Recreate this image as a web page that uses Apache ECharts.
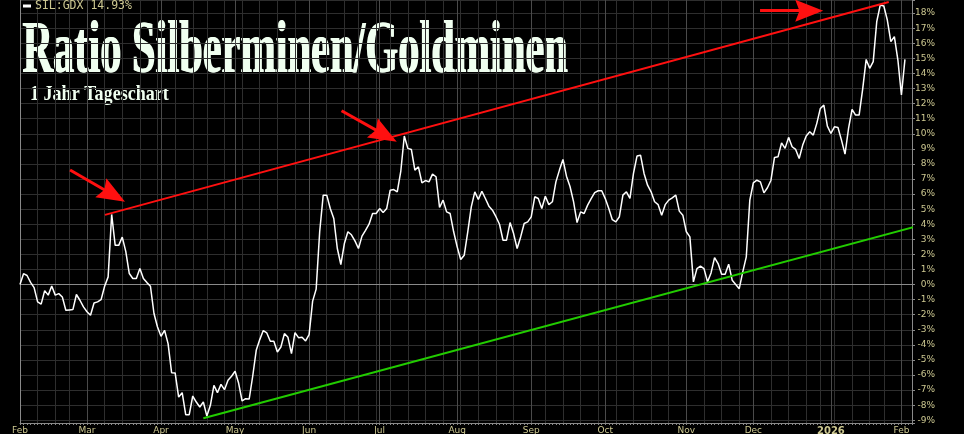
<!DOCTYPE html>
<html>
<head>
<meta charset="utf-8">
<script src="https://cdn.jsdelivr.net/npm/echarts@6/dist/echarts.min.js"></script>
<style>
html,body{margin:0;padding:0;background:#000;}
#chart{width:964px;height:434px;}
</style>
</head>
<body>
<div id="chart"></div>
<script>
// ---------- data ----------
const firstTradingDay = '2025-02-03';
const marketHolidays = ['2025-02-17','2025-04-18','2025-05-26','2025-06-19','2025-07-04',
  '2025-09-01','2025-11-27','2025-12-25','2026-01-01','2026-01-19','2026-02-16'];
const axisSlots = 254; // 252 trading days shown + 2 empty slots on the right

const monthNames = ['Jan','Feb','Mar','Apr','May','Jun','Jul','Aug','Sep','Oct','Nov','Dec'];

// SIL:GDX ratio, % (daily closes)
const ratioValues = [
  0.0, 0.72, 0.6, 0.15, -0.2, -1.15, -1.3, -0.4, -0.7, -0.1,
  -0.7, -0.6, -0.82, -1.7, -1.68, -1.66, -0.66, -1.04, -1.48, -1.8,
  -2.04, -1.22, -1.15, -1.0, -0.11, 0.51, 4.65, 2.6, 2.6, 3.15,
  2.2, 0.73, 0.4, 0.4, 1.06, 0.4, 0.13, -0.11, -1.92, -2.81,
  -3.43, -3.03, -3.92, -5.84, -5.86, -7.46, -7.17, -8.63, -8.63, -7.39,
  -7.79, -8.12, -7.79, -8.72, -8.01, -6.68, -7.17, -6.62, -6.97, -6.35,
  -6.08, -5.75, -6.53, -7.72, -7.57, -7.59, -6.08, -4.36, -3.65, -3.05,
  -3.21, -3.76, -3.76, -4.47, -4.14, -3.25, -3.5, -4.58, -3.19, -3.52,
  -3.5, -3.74, -3.32, -1.1, -0.3, 3.5, 5.93, 5.93, 5.04, 4.38,
  2.39, 1.33, 2.72, 3.5, 3.3, 2.9, 2.39, 3.21, 3.6, 4.0,
  4.71, 4.71, 5.04, 4.78, 5.04, 6.26, 6.3, 6.15, 7.5, 9.85,
  9.03, 8.96, 7.59, 7.81, 6.75, 6.9, 6.81, 7.32, 7.15, 5.11,
  5.6, 4.82, 4.71, 3.5, 2.5, 1.66, 1.95, 3.5, 5.15, 6.15,
  5.64, 6.19, 5.71, 5.2, 4.93, 4.5, 4.0, 2.94, 2.94, 4.11,
  3.38, 2.39, 3.16, 4.05, 4.16, 4.49, 5.82, 5.71, 5.04, 5.86,
  5.3, 5.49, 6.81, 7.59, 8.3, 7.19, 6.5, 5.5, 4.11, 4.82,
  4.71, 5.27, 5.7, 6.1, 6.22, 6.22, 5.7, 5.04, 4.3, 4.16,
  4.5, 5.93, 6.15, 5.71, 7.37, 8.52, 8.58, 7.37, 6.59, 6.15,
  5.49, 5.3, 4.6, 5.3, 5.6, 5.75, 5.93, 4.87, 4.6, 3.5,
  3.16, 0.18, 1.06, 1.22, 1.06, 0.18, 0.77, 1.79, 1.39, 0.69,
  0.69, 1.35, 0.29, 0.0, -0.27, 0.84, 1.84, 5.6, 6.75, 6.92,
  6.81, 6.08, 6.42, 6.92, 8.43, 8.47, 9.4, 9.03, 9.76, 9.14,
  8.96, 8.36, 9.25, 9.85, 10.13, 9.91, 10.69, 11.68, 11.9, 10.51,
  10.02, 10.46, 10.42, 9.58, 8.65, 10.35, 11.62, 11.24, 11.24, 12.94,
  14.93, 14.34, 14.78, 17.43, 18.54, 18.47, 17.54, 16.11, 16.44, 14.89,
  12.57, 14.93
];

// trend channel lines: [trading-day index, %]
const upperTrend = [[24.1, 4.62], [246.4, 18.74]];
const lowerTrend = [[52.0, -8.87], [256.7, 4.02]];
// red arrows: [tail, head-centre] in [trading-day index, %]
const arrowMarks = [
  [[14.2, 7.6], [26.35, 5.96]],
  [[91.2, 11.53], [103.4, 9.93]],
  [[209.9, 18.16], [223.85, 18.16]]
];

const seriesName = 'SIL:GDX 14.93%';
const titleText = 'Ratio Silberminen/Goldminen';
const subtitleText = '1 Jahr Tageschart';
const yMin = -9.18, yMax = 18.87;

// ---------- build categories ----------
function tradingDays(start, n, hol) {
  const out = [];
  const d = new Date(start + 'T00:00:00Z');
  while (out.length < n) {
    const dow = d.getUTCDay();
    const s = d.toISOString().slice(0, 10);
    if (dow !== 0 && dow !== 6 && hol.indexOf(s) < 0) out.push(s);
    d.setUTCDate(d.getUTCDate() + 1);
  }
  return out;
}
const dates = tradingDays(firstTradingDay, axisSlots, marketHolidays);
const dayOfWeek = dates.map(s => new Date(s + 'T00:00:00Z').getUTCDay());
const isMonthStart = dates.map((s, i) => i === 0 || s.slice(5, 7) !== dates[i - 1].slice(5, 7));
const isWeekStart = dates.map((s, i) => i === 0 || dayOfWeek[i] <= dayOfWeek[i - 1]);

const khaki = '#cdc891';
const axisGray = '#8a8a8a';
const titleColor = '#f0fff0';

function titleText2(x, y, sx, txt, font) {
  return {type: 'text', x: x, y: y, scaleX: sx, scaleY: 1, silent: true,
    style: {text: txt, font: font, fill: titleColor, textAlign: 'left', textVerticalAlign: 'middle'}};
}

const chart = echarts.init(document.getElementById('chart'), null, {renderer: 'canvas'});
chart.setOption({
  backgroundColor: '#000000',
  animation: false,
  grid: {left: 20, right: 52, top: 0, bottom: 11, containLabel: false, outerBoundsMode: 'none'},
  legend: {
    show: true, left: 23, top: 0, padding: 0,
    icon: 'rect', itemWidth: 8, itemHeight: 3, itemGap: 4,
    data: [seriesName],
    textStyle: {color: khaki, fontFamily: 'DejaVu Sans Mono', fontSize: 11.5, padding: [0, 0, 0, -1]}
  },
  graphic: [
    titleText2(22, 53, 0.573, titleText, 'bold 74px "Liberation Serif"'),
    titleText2(23, 53, 0.573, titleText, 'bold 74px "Liberation Serif"'),
    titleText2(30, 94.5, 0.86, subtitleText, 'bold 21px "Liberation Serif"')
  ],
  xAxis: [
    {
      type: 'category', data: dates, boundaryGap: false, position: 'bottom',
      axisLine: {show: true, onZero: false, lineStyle: {color: axisGray, width: 1}},
      axisTick: {show: true, interval: 0, length: 2, lineStyle: {color: axisGray}},
      axisLabel: {
        show: true, interval: (i) => isMonthStart[i], margin: 3,
        color: khaki, fontFamily: 'DejaVu Sans', fontSize: 9,
        formatter: (v, i) => {
          const m = parseInt(v.slice(5, 7), 10);
          if (m === 1) return '{y|' + v.slice(0, 4) + '}';
          return monthNames[m - 1];
        },
        rich: {y: {color: khaki, fontFamily: 'DejaVu Sans', fontSize: 10, fontWeight: 'bold'}}
      },
      splitLine: {show: true, interval: (i) => isWeekStart[i] && !isMonthStart[i],
        lineStyle: {color: '#2e2e2e', width: 1}}
    },
    {
      type: 'category', data: dates, boundaryGap: false, position: 'top',
      axisLine: {show: false, onZero: false}, axisTick: {show: false}, axisLabel: {show: false},
      splitLine: {show: true, interval: (i) => isMonthStart[i], lineStyle: {color: '#4a4a4a', width: 1}}
    },
    {
      type: 'value', min: 0, max: axisSlots - 1, show: false
    }
  ],
  yAxis: [
    {
      type: 'value', position: 'right', min: yMin, max: yMax, minInterval: 1, maxInterval: 1,
      axisLine: {show: true, onZero: false, lineStyle: {color: axisGray}},
      axisTick: {show: true, length: 3, lineStyle: {color: axisGray}},
      axisLabel: {
        show: true, color: khaki, fontFamily: 'DejaVu Sans', fontSize: 9, align: 'right', margin: 23,
        formatter: (v) => Math.abs(v - Math.round(v)) < 1e-6 ? Math.round(v) + '%' : ''
      },
      splitLine: {show: true, lineStyle: {color: '#2e2e2e', width: 1}}
    },
    {
      type: 'value', position: 'left', min: yMin, max: yMax,
      axisLine: {show: true, onZero: false, lineStyle: {color: axisGray}},
      axisTick: {show: false}, axisLabel: {show: false}, splitLine: {show: false}
    }
  ],
  series: [
    {
      name: seriesName, type: 'line', xAxisIndex: 0, yAxisIndex: 0,
      data: ratioValues, showSymbol: false, symbol: 'none', color: '#ffffff',
      lineStyle: {color: '#ffffff', width: 1.5}, z: 5,
      markLine: {
        silent: true, symbol: ['none', 'none'], animation: false,
        label: {show: false},
        lineStyle: {color: axisGray, width: 1, type: 'solid'},
        data: [{yAxis: 0}], z: 1
      }
    },
    {
      name: 'Widerstand', type: 'line', xAxisIndex: 2, yAxisIndex: 0,
      data: upperTrend, showSymbol: false, symbol: 'none', clip: false,
      lineStyle: {color: '#ff1010', width: 2}, z: 6,
      markLine: {
        silent: true, animation: false,
        symbol: ['none', 'path://M5,0 L10,10 L5,8.5 L0,10 Z'], symbolSize: [22, 28],
        label: {show: false},
        lineStyle: {color: '#ff1010', width: 3, type: 'solid'},
        data: arrowMarks.map(a => [{coord: a[0]}, {coord: a[1]}])
      }
    },
    {
      name: 'Unterstützung', type: 'line', xAxisIndex: 2, yAxisIndex: 0,
      data: lowerTrend, showSymbol: false, symbol: 'none', clip: false,
      lineStyle: {color: '#22cc00', width: 2}, z: 6
    }
  ]
});
</script>
</body>
</html>
